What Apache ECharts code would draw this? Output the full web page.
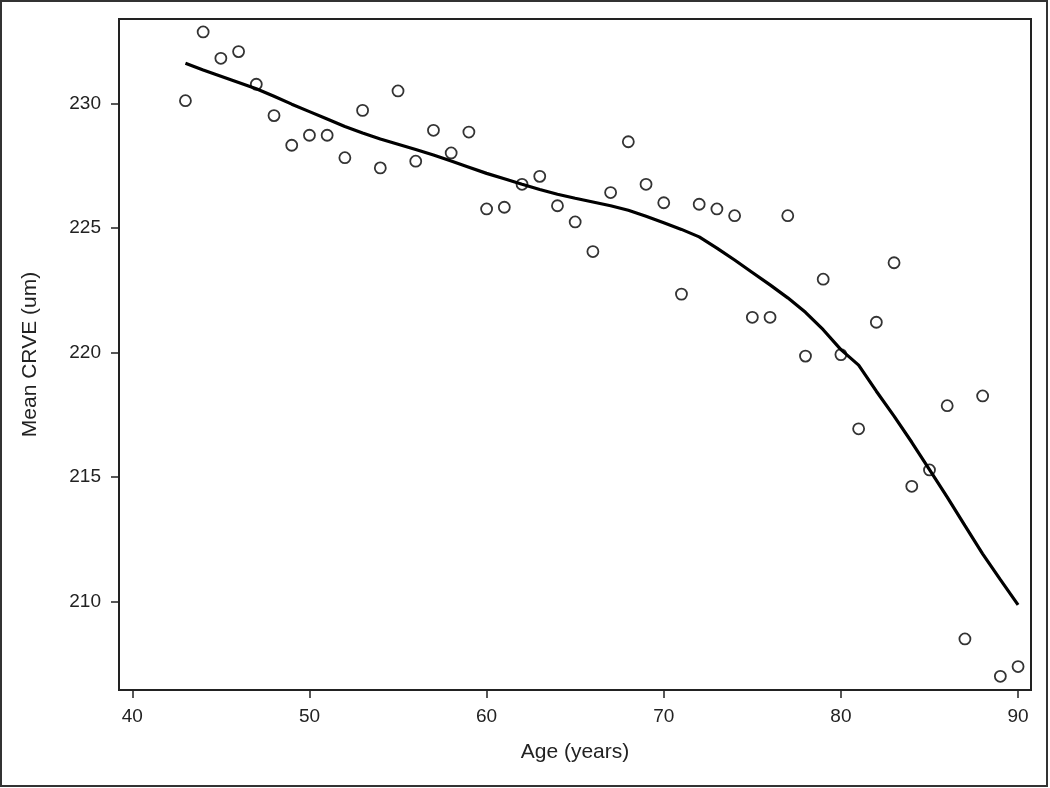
<!DOCTYPE html>
<html>
<head>
<meta charset="utf-8">
<script src="https://cdn.jsdelivr.net/npm/echarts@6/dist/echarts.min.js"></script>
<style>
html,body{margin:0;padding:0;background:#fff;}
#chart{width:1050px;height:788px;}
</style>
</head>
<body>
<div id="chart"></div>
<script>
const ages = [43,44,45,46,47,48,49,50,51,52,53,54,55,56,57,58,59,60,61,62,63,64,65,66,67,68,69,70,71,72,73,74,75,76,77,78,79,80,81,82,83,84,85,86,87,88,89,90];
const meanCRVE = [230.12,232.88,231.82,232.09,230.78,229.52,228.33,228.73,228.73,227.83,229.73,227.42,230.51,227.69,228.93,228.02,228.86,225.77,225.84,226.76,227.08,225.90,225.25,224.06,226.43,228.47,226.76,226.02,222.35,225.96,225.77,225.50,221.42,221.42,225.50,219.86,222.95,219.92,216.94,221.22,223.61,214.63,215.29,217.87,208.50,218.26,207.00,207.39];
const loessFit = [231.62,231.35,231.10,230.85,230.60,230.30,229.98,229.68,229.38,229.08,228.82,228.58,228.37,228.16,227.94,227.70,227.45,227.20,226.98,226.76,226.55,226.36,226.20,226.05,225.90,225.72,225.48,225.22,224.95,224.65,224.20,223.72,223.22,222.72,222.20,221.62,220.92,220.12,219.50,218.45,217.45,216.40,215.30,214.20,213.05,211.92,210.88,209.87];
const xTicks = [40,50,60,70,80,90];
const yTicks = [210,215,220,225,230];

const chart = echarts.init(document.getElementById('chart'), null, {renderer:'canvas'});
const txt = '#222';
chart.setOption({
  backgroundColor:'#fff',
  animation:false,
  graphic:[{type:'rect',shape:{x:1,y:1,width:1046,height:785},style:{fill:'none',stroke:'#333',lineWidth:2},silent:true}],
  grid:{left:119,top:19,right:19,bottom:98,show:true,borderColor:'#222',borderWidth:2,backgroundColor:'transparent'},
  xAxis:{
    type:'value',min:39.25,max:90.73,
    name:'Age (years)',nameLocation:'middle',nameGap:52,
    nameTextStyle:{color:txt,fontSize:21,fontFamily:'Liberation Sans, Arial, sans-serif'},
    axisLine:{show:true,onZero:false,lineStyle:{color:'#222',width:2}},
    axisTick:{show:true,customValues:xTicks,length:8,lineStyle:{color:'#222',width:1.5}},
    axisLabel:{customValues:xTicks,margin:17,color:txt,fontSize:19,fontFamily:'Liberation Sans, Arial, sans-serif'},
    splitLine:{show:false}
  },
  yAxis:{
    type:'value',min:206.45,max:233.4,
    name:'Mean CRVE (um)',nameLocation:'middle',nameGap:78,
    nameTextStyle:{color:txt,fontSize:21,fontFamily:'Liberation Sans, Arial, sans-serif'},
    axisLine:{show:true,onZero:false,lineStyle:{color:'#222',width:2}},
    axisTick:{show:true,customValues:yTicks,length:8,lineStyle:{color:'#222',width:1.5}},
    axisLabel:{customValues:yTicks,margin:18,color:txt,fontSize:19,fontFamily:'Liberation Sans, Arial, sans-serif'},
    splitLine:{show:false}
  },
  series:[
    {
      type:'scatter',
      data:ages.map((a,i)=>[a,meanCRVE[i]]),
      symbol:'circle',symbolSize:11,
      itemStyle:{color:'rgba(0,0,0,0)',borderColor:'#000',borderWidth:1.8},
      z:2
    },
    {
      type:'line',
      data:ages.map((a,i)=>[a,loessFit[i]]),
      showSymbol:false,symbol:'none',smooth:false,
      lineStyle:{color:'#000',width:3.2},
      z:3
    }
  ]
});
</script>
</body>
</html>
